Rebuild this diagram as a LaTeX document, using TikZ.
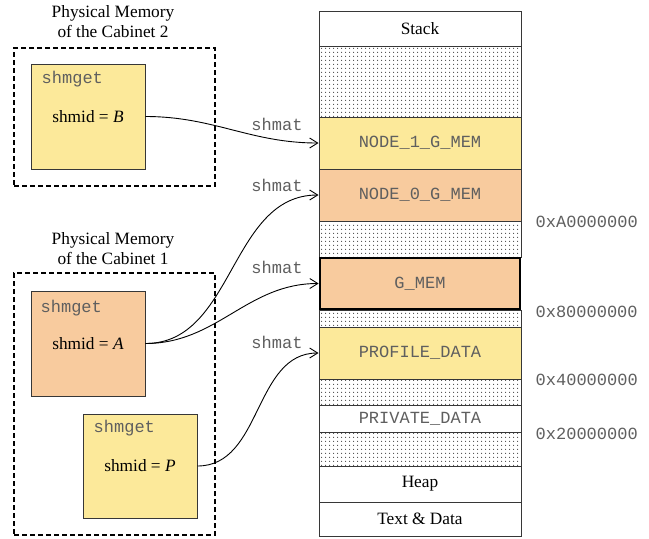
\documentclass[tikz,border=0pt]{standalone}
\usepackage{fontspec}
\setmainfont{Liberation Serif}
\setmonofont{Liberation Mono}
\usetikzlibrary{arrows.meta,patterns.meta,calc}

% fine dot fill for unused address ranges
\tikzdeclarepattern{
  name=memdots, type=uncolored,
  bounding box={(0,0) and (3.6pt,3.6pt)},
  tile size={(3.6pt,3.6pt)},
  code={\fill (1.8pt,1.8pt) circle (0.55pt);}
}

\definecolor{memyellow}{RGB}{252,233,154}
\definecolor{memorange}{RGB}{248,203,158}
\definecolor{codegray}{RGB}{95,95,95}
\definecolor{edgegray}{RGB}{55,55,55}

\newcommand{\serifsize}{\fontsize{17.3}{20}\selectfont}
\newcommand{\codesize}{\fontsize{17}{20}\selectfont\ttfamily}

\begin{document}
\begin{tikzpicture}[x=1pt,y=-1pt,
  seg/.style={draw=edgegray, line width=1pt, minimum width=202pt, inner sep=0pt, font=\serifsize},
  free/.style={seg, pattern=memdots, pattern color=black},
  codetxt/.style={font=\codesize, text=codegray, inner sep=0pt},
  cabinet/.style={draw=black, line width=1.8pt, dash pattern=on 5pt off 3pt, minimum width=201pt, inner sep=0pt},
  shmbox/.style={draw=edgegray, line width=1pt, minimum width=114pt, minimum height=105pt, inner sep=0pt, font=\serifsize},
  title/.style={align=center, font=\serifsize, inner sep=0pt},
  link/.style={-{Straight Barb[length=8pt,width=10pt,line width=0.9pt]}, line width=0.9pt, black}
]
\useasboundingbox (0,0) rectangle (649,539);
\fill[white] (0,0) rectangle (649,539);

% ---- process address space ----
\node[seg, minimum height=35pt] (stack) at (420,28.5) {Stack};
\node[free, minimum height=71pt] (free1) at (420,81.5) {};
\node[seg, fill=memyellow, minimum height=52pt, font=\codesize, text=codegray] (n1) at (420,143) {NODE\_1\_G\_MEM};
\node[seg, fill=memorange, minimum height=52pt, font=\codesize, text=codegray] (n0) at (420,195) {NODE\_0\_G\_MEM};
\node[free, minimum height=36pt] (free2) at (420,239) {};
\node[free, minimum height=17pt] (free3) at (420,318.5) {};
\node[seg, fill=memyellow, minimum height=52pt, font=\codesize, text=codegray] (prof) at (420,353) {PROFILE\_DATA};
\node[free, minimum height=26pt] (free4) at (420,392) {};
\node[seg, minimum height=27pt, font=\codesize, text=codegray] (priv) at (420,418.5) {PRIVATE\_DATA};
\node[free, minimum height=34pt] (free5) at (420,449) {};
\node[seg, minimum height=36pt] (heap) at (420,484) {Heap};
\node[seg, minimum height=34pt] (textdata) at (420,519) {Text \& Data};
\node[seg, fill=memorange, draw=black, line width=2.8pt, minimum width=200pt, minimum height=51pt, font=\codesize, text=codegray] (gmem) at (420,283.5) {G\_MEM};

% ---- address marks ----
\node[codetxt, anchor=west] (adrA) at ($(n0.south east)+(14,0)$) {0xA0000000};
\node[codetxt, anchor=west] (adr8) at ($(gmem.south east)+(14,1)$) {0x80000000};
\node[codetxt, anchor=west] (adr4) at ($(prof.south east)+(14,0)$) {0x40000000};
\node[codetxt, anchor=west] (adr2) at ($(priv.south east)+(14,1)$) {0x20000000};

% ---- cabinet 2 ----
\node[title] (t2) at (113,22) {Physical Memory\\of the Cabinet 2};
\node[cabinet, minimum height=138pt] (cab2) at (114.5,117) {};
\node[shmbox, fill=memyellow] (b) at (88,116.5) {shmid = \textit{B}};
\node[codetxt, anchor=west] (gb) at ($(b.north west)+(11,16)$) {shmget};

% ---- cabinet 1 ----
\node[title] (t1) at (113,249) {Physical Memory\\of the Cabinet 1};
\node[cabinet, minimum height=262pt] (cab1) at (114.5,404) {};
\node[shmbox, fill=memorange] (a) at (88,343.5) {shmid = \textit{A}};
\node[codetxt, anchor=west] (ga) at ($(a.north west)+(10,18)$) {shmget};
\node[shmbox, fill=memyellow, minimum height=104pt] (p) at (140,466) {shmid = \textit{P}};
\node[codetxt, anchor=west] (gp) at ($(p.north west)+(11,15)$) {shmget};

% ---- attach links ----
\draw[link] (b.east) to[out=0,in=180] (n1.west);
\draw[link] (a.east) to[out=0,in=180] (n0.west);
\draw[link] (a.east) to[out=0,in=180] (gmem.west);
\draw[link] (p.east) to[out=0,in=180] (prof.west);

\node[codetxt] (s1) at (277,124) {shmat};
\node[codetxt] (s2) at (277,185) {shmat};
\node[codetxt] (s3) at (277,267) {shmat};
\node[codetxt] (s4) at (277,342) {shmat};
\end{tikzpicture}
\end{document}
